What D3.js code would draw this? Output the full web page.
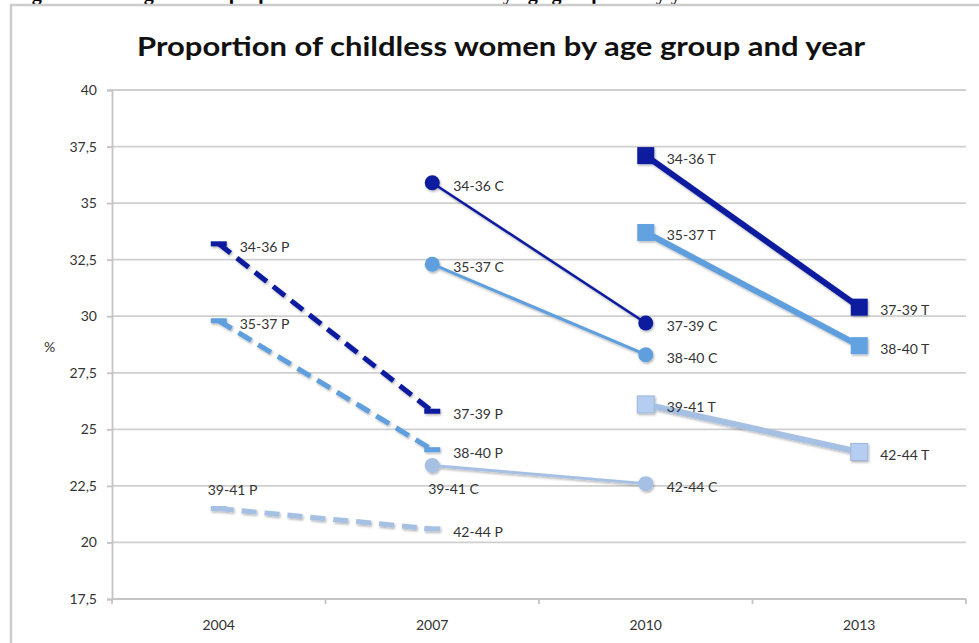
<!DOCTYPE html>
<html>
<head>
<meta charset="utf-8">
<script src="https://cdn.jsdelivr.net/npm/d3@7"></script>
<style>
  html, body { margin: 0; padding: 0; background: #fff; overflow: hidden; }
  svg { display: block; }
</style>
</head>
<body>
<div id="chart"></div>
<script>
// Childless women by age group: three cohorts (P, C, T) each followed over two surveys
const years = ['2004', '2007', '2010', '2013'];
const yTicks = [17.5, 20, 22.5, 25, 27.5, 30, 32.5, 35, 37.5, 40];

const pYears = ['2004', '2007'];
const cYears = ['2007', '2010'];
const tYears = ['2010', '2013'];

// rows: dark, medium, light
const pValues = [[33.2, 25.8], [29.8, 24.1], [21.5, 20.6]];
const cValues = [[35.9, 29.7], [32.3, 28.3], [23.4, 22.6]];
const tValues = [[37.1, 30.4], [33.7, 28.7], [26.1, 24.0]];

const pLabels = [['34-36 P', '37-39 P'], ['35-37 P', '38-40 P'], ['39-41 P', '42-44 P']];
const cLabels = [['34-36 C', '37-39 C'], ['35-37 C', '38-40 C'], ['39-41 C', '42-44 C']];
const tLabels = [['34-36 T', '37-39 T'], ['35-37 T', '38-40 T'], ['39-41 T', '42-44 T']];

// colours for the three shades
const lineColors = ['#0a1a9e', '#5f9fdd', '#a6c0e4'];
const squareFill = ['#0a1a9e', '#62a2e0', '#b4cdf1'];

const width = 979, height = 643;
const margin = { left: 112, right: 13, top: 90, bottom: 44 };

const svg = d3.select('#chart').append('svg')
  .attr('width', width)
  .attr('height', height);

const defs = svg.append('defs');
const shadow = defs.append('filter').attr('id', 'shadow')
  .attr('x', '-20%').attr('y', '-20%').attr('width', '140%').attr('height', '140%');
shadow.append('feDropShadow')
  .attr('dx', 1).attr('dy', 1.5).attr('stdDeviation', 1.2)
  .attr('flood-color', '#000').attr('flood-opacity', 0.3);

// clipped caption of the page above the chart
svg.append('text')
  .attr('x', 14)
  .attr('y', 0)
  .attr('font-family', 'Liberation Serif, serif')
  .attr('font-weight', 'bold')
  .attr('font-size', 20)
  .attr('fill', '#000')
  .text('Figure 2: Changes in the proportion of childless women by age group and by year');

// chart frame
svg.append('rect')
  .attr('x', 11).attr('y', 5)
  .attr('width', 1000).attr('height', 700)
  .attr('fill', '#fff')
  .attr('stroke', '#cdcdcd')
  .attr('stroke-width', 2.5);

svg.append('text')
  .attr('x', 501)
  .attr('y', 56)
  .attr('text-anchor', 'middle')
  .attr('font-family', 'Lato, Open Sans, sans-serif')
  .attr('font-weight', 'bold')
  .attr('font-size', 27)
  .attr('fill', '#111')
  .attr('textLength', 728)
  .attr('lengthAdjust', 'spacingAndGlyphs')
  .text('Proportion of childless women by age group and year');

const x = d3.scaleBand()
  .domain(years)
  .range([margin.left, width - margin.right]);
const xc = d => x(d) + x.bandwidth() / 2;

const y = d3.scaleLinear()
  .domain([17.5, 40])
  .range([height - margin.bottom, margin.top]);

// grid lines
svg.append('g')
  .selectAll('line')
  .data(yTicks.filter(t => t > 17.5))
  .enter().append('line')
  .attr('x1', margin.left).attr('x2', width - margin.right)
  .attr('y1', d => y(d)).attr('y2', d => y(d))
  .attr('stroke', '#cfcfcf')
  .attr('stroke-width', 1.8);

// y axis
const yAxis = svg.append('g')
  .attr('transform', `translate(${margin.left},0)`)
  .call(d3.axisLeft(y).tickValues(yTicks).tickSize(5).tickPadding(10)
    .tickFormat(d => String(d).replace('.', ',')));
yAxis.select('.domain').attr('stroke', '#c4c4c4').attr('stroke-width', 1.8);
yAxis.selectAll('.tick line').attr('stroke', '#c4c4c4').attr('stroke-width', 1.8);
yAxis.selectAll('.tick text')
  .attr('font-family', 'Lato, Open Sans, sans-serif')
  .attr('font-size', 14)
  .attr('fill', '#333');

svg.append('text')
  .attr('x', 44).attr('y', 352)
  .attr('font-family', 'Lato, Open Sans, sans-serif')
  .attr('font-size', 14)
  .attr('fill', '#333')
  .text('%');

// x axis with ticks on band edges
const xAxis = svg.append('g')
  .attr('transform', `translate(0,${y(17.5)})`);
xAxis.append('line')
  .attr('x1', margin.left).attr('x2', width - margin.right)
  .attr('stroke', '#c4c4c4').attr('stroke-width', 1.8);
xAxis.selectAll('.edge')
  .data(years.map(d => x(d)).concat([width - margin.right]))
  .enter().append('line')
  .attr('x1', d => d).attr('x2', d => d)
  .attr('y1', 0).attr('y2', 5)
  .attr('stroke', '#c4c4c4').attr('stroke-width', 1.8);
xAxis.selectAll('.yr')
  .data(years)
  .enter().append('text')
  .attr('x', d => xc(d))
  .attr('y', 31)
  .attr('text-anchor', 'middle')
  .attr('font-family', 'Lato, Open Sans, sans-serif')
  .attr('font-size', 14)
  .attr('fill', '#333')
  .text(d => d);

// label placement exceptions (default: right of the point)
const labelPlacement = {
  '39-41 P': { dx: -11, dy: -18 },
  '39-41 C': { dx: -4, dy: 24 }
};

const line = d3.line().x(d => xc(d.year)).y(d => y(d.value));

function drawCohort(yrs, values, labels, kind) {
  const g = svg.append('g');
  values.forEach((vals, i) => {
    const pts = vals.map((v, j) => ({ year: yrs[j], value: v, label: labels[i][j] }));
    const sg = g.append('g').attr('filter', 'url(#shadow)');
    const path = sg.append('path')
      .datum(pts)
      .attr('d', line)
      .attr('fill', 'none')
      .attr('stroke', lineColors[i]);
    if (kind === 'P') {
      path.attr('stroke-width', 5).attr('stroke-dasharray', '15,8');
      sg.selectAll('rect').data(pts).enter().append('rect')
        .attr('x', d => xc(d.year) - 8)
        .attr('y', d => y(d.value) - 2.5)
        .attr('width', 16).attr('height', 5)
        .attr('fill', lineColors[i]);
    } else if (kind === 'C') {
      path.attr('stroke-width', i === 0 ? 2.5 : 3);
      sg.selectAll('circle').data(pts).enter().append('circle')
        .attr('cx', d => xc(d.year))
        .attr('cy', d => y(d.value))
        .attr('r', 7.5)
        .attr('fill', lineColors[i]);
    } else {
      path.attr('stroke-width', 6);
      sg.selectAll('rect').data(pts).enter().append('rect')
        .attr('x', d => xc(d.year) - 8.5)
        .attr('y', d => y(d.value) - 8.5)
        .attr('width', 17).attr('height', 17)
        .attr('fill', squareFill[i])
        .attr('stroke', i === 2 ? '#9fb6da' : 'none')
        .attr('stroke-width', 1);
    }
  });
  return g;
}

drawCohort(pYears, pValues, pLabels, 'P');
drawCohort(cYears, cValues, cLabels, 'C');
drawCohort(tYears, tValues, tLabels, 'T');

// data labels on top
const labelData = [];
[[pYears, pValues, pLabels], [cYears, cValues, cLabels], [tYears, tValues, tLabels]]
  .forEach(([yrs, values, labels]) => {
    values.forEach((vals, i) => vals.forEach((v, j) => {
      labelData.push({ year: yrs[j], value: v, label: labels[i][j] });
    }));
  });

svg.append('g')
  .selectAll('text')
  .data(labelData)
  .enter().append('text')
  .attr('x', d => xc(d.year) + (labelPlacement[d.label] ? labelPlacement[d.label].dx : 21))
  .attr('y', d => y(d.value) + (labelPlacement[d.label] ? labelPlacement[d.label].dy : 3))
  .attr('dy', '0.35em')
  .attr('font-family', 'Lato, Open Sans, sans-serif')
  .attr('font-size', 14)
  .attr('fill', '#333')
  .text(d => d.label);
</script>
</body>
</html>
